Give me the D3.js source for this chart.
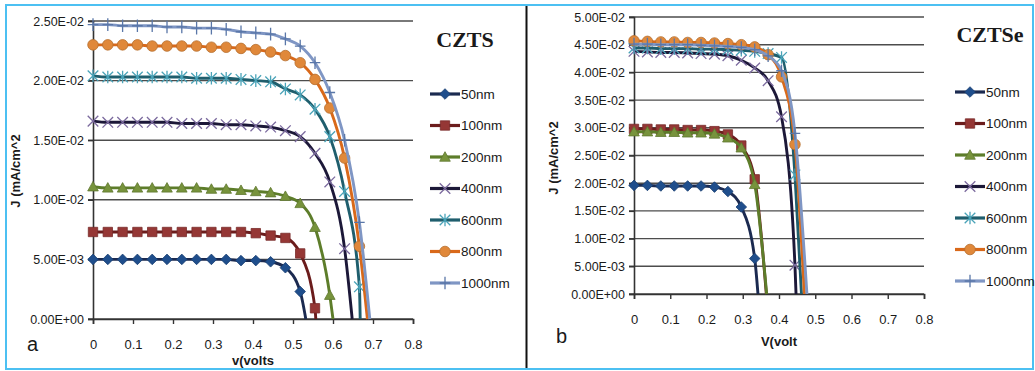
<!DOCTYPE html>
<html>
<head>
<meta charset="utf-8">
<script src="https://cdn.jsdelivr.net/npm/d3@7"></script>
<style>
  body { margin: 0; background: #fff; }
  text { font-family: "Liberation Sans", Arial, sans-serif; fill: #1a1a1a; }
</style>
</head>
<body>
<div id="chart"></div>
<script>
// voltage grid where the markers sit (same for every series)
const vGrid = [0, 0.037, 0.074, 0.111, 0.148, 0.185, 0.222, 0.259, 0.296, 0.333,
               0.370, 0.407, 0.444, 0.481, 0.518, 0.555, 0.592, 0.629, 0.666];
const names = ["50nm", "100nm", "200nm", "400nm", "600nm", "800nm", "1000nm"];

// CZTS (panel a) current density, one value per grid point
const czts50   = [0.0050,0.0050,0.0050,0.0050,0.0050,0.0050,0.0050,0.0050,0.0050,0.0050,0.0049,0.0049,0.0048,0.0043,0.0023];
const czts100  = [0.0073,0.0073,0.0073,0.0073,0.0073,0.0073,0.0073,0.0073,0.0073,0.0073,0.0073,0.0072,0.0070,0.0068,0.0055,0.0009];
const czts200  = [0.0111,0.0110,0.0110,0.0110,0.0110,0.0110,0.0110,0.0110,0.0109,0.0109,0.0108,0.0107,0.0106,0.0103,0.0097,0.0077,0.0020];
const czts400  = [0.0166,0.0165,0.0165,0.0165,0.0165,0.0165,0.0164,0.0164,0.0164,0.0163,0.0163,0.0162,0.0161,0.0158,0.0153,0.0139,0.0115,0.0059];
const czts600  = [0.0204,0.0203,0.0203,0.0203,0.0203,0.0203,0.0203,0.0202,0.0202,0.0202,0.0201,0.0200,0.0199,0.0193,0.0188,0.0176,0.0153,0.0107,0.0027];
const czts800  = [0.0230,0.0230,0.0230,0.0230,0.0229,0.0229,0.0229,0.0229,0.0228,0.0228,0.0227,0.0226,0.0224,0.0221,0.0215,0.0201,0.0177,0.0135,0.0061];
const czts1000 = [0.0247,0.0247,0.0246,0.0246,0.0246,0.0245,0.0245,0.0244,0.0244,0.0243,0.0241,0.0240,0.0239,0.0235,0.0229,0.0215,0.0190,0.0150,0.0081];
const cztsVoc  = [0.532, 0.557, 0.600, 0.648, 0.668, 0.686, 0.692];

// CZTSe (panel b)
const cztse50   = [0.0196,0.0196,0.0195,0.0195,0.0195,0.0195,0.0193,0.0185,0.0157,0.0064];
const cztse100  = [0.0298,0.0298,0.0297,0.0297,0.0296,0.0296,0.0294,0.0288,0.0268,0.0207];
const cztse200  = [0.0293,0.0293,0.0292,0.0292,0.0291,0.0291,0.0289,0.0282,0.0264,0.0198];
const cztse400  = [0.0438,0.0437,0.0436,0.0436,0.0435,0.0434,0.0433,0.0430,0.0422,0.0408,0.0385,0.0320,0.0052];
const cztse600  = [0.0444,0.0444,0.0443,0.0443,0.0443,0.0442,0.0442,0.0441,0.0440,0.0438,0.0434,0.0427,0.0215];
const cztse800  = [0.0457,0.0456,0.0455,0.0455,0.0454,0.0454,0.0453,0.0452,0.0450,0.0446,0.0432,0.0392,0.0270];
const cztse1000 = [0.0451,0.0451,0.0450,0.0450,0.0450,0.0449,0.0448,0.0447,0.0445,0.0441,0.0430,0.0403,0.0290];
const cztseVoc  = [0.342, 0.365, 0.366, 0.447, 0.462, 0.470, 0.477];

const xTicks = [0, 0.1, 0.2, 0.3, 0.4, 0.5, 0.6, 0.7, 0.8];
const yTicksA = [0, 0.005, 0.010, 0.015, 0.020, 0.025];
const yTicksB = [0, 0.005, 0.010, 0.015, 0.020, 0.025, 0.030, 0.035, 0.040, 0.045, 0.050];

// line colour, marker colour, marker type
const styles = [
  {line: "#1b2a50", mark: "#1f4e8c", shape: "diamond"},
  {line: "#6b1c1c", mark: "#953735", shape: "square"},
  {line: "#5d7d2a", mark: "#77933c", shape: "triangle"},
  {line: "#1c1838", mark: "#7b6a9e", shape: "x"},
  {line: "#1f5e6d", mark: "#4aa3b8", shape: "asterisk"},
  {line: "#d9691a", mark: "#e0883a", shape: "circle"},
  {line: "#7f96c4", mark: "#5a77a8", shape: "plus"}
];

function markerPath(shape) {
  const r = 5.3;
  switch (shape) {
    case "diamond": return `M0,${-r}L${r},0L0,${r}L${-r},0Z`;
    case "square": return `M${-r+0.6},${-r+0.6}H${r-0.6}V${r-0.6}H${-r+0.6}Z`;
    case "triangle": return `M0,${-r}L${r},${r*0.8}L${-r},${r*0.8}Z`;
    case "circle": return d3.symbol(d3.symbolCircle, 88)();
    case "x": return `M${-r},${-r}L${r},${r}M${-r},${r}L${r},${-r}`;
    case "asterisk": return `M${-r},${-r}L${r},${r}M${-r},${r}L${r},${-r}M0,${-r-1}L0,${r+1}`;
    case "plus": return `M${-r},0H${r}M0,${-r-1}V${r+1}`;
  }
}
const filled = s => ["diamond", "square", "triangle", "circle"].includes(s);

function fmtSci(d) {
  const parts = d.toExponential(2).split("e");
  let e = parseInt(parts[1]);
  const sign = e < 0 ? "-" : "+";
  e = Math.abs(e);
  return parts[0] + "E" + sign + (e < 10 ? "0" + e : e);
}

const svg = d3.select("#chart").append("svg")
  .attr("width", 1035).attr("height", 371);

// frame
svg.append("rect").attr("x", 6).attr("y", 5).attr("width", 1027).attr("height", 364)
  .attr("fill", "none").attr("stroke", "#4cc0f2").attr("stroke-width", 2);
svg.append("line").attr("x1", 526.5).attr("x2", 526.5).attr("y1", 6).attr("y2", 368)
  .attr("stroke", "#111").attr("stroke-width", 2);

function panel(cfg) {
  const x = d3.scaleLinear().domain([0, 0.8]).range([cfg.left, cfg.right]);
  const y = d3.scaleLinear().domain([0, cfg.yMax]).range([cfg.bottom, cfg.top]);
  const g = svg.append("g");

  // gridlines
  g.selectAll(".grid").data(cfg.yTicks).enter().append("line")
    .attr("x1", cfg.left - 5).attr("x2", cfg.right)
    .attr("y1", d => y(d)).attr("y2", d => y(d))
    .attr("stroke", "#4d4d4d").attr("stroke-width", 1.4);

  const ya = g.append("g").attr("transform", `translate(${cfg.left},0)`)
    .call(d3.axisLeft(y).tickValues(cfg.yTicks).tickFormat(fmtSci).tickSize(5).tickPadding(4));
  const xa = g.append("g").attr("transform", `translate(0,${cfg.bottom})`)
    .call(d3.axisBottom(x).tickValues(xTicks).tickFormat(d => String(d)).tickSize(5).tickPadding(cfg.xPad));
  [ya, xa].forEach(a => {
    a.select(".domain").attr("stroke", "#333").attr("stroke-width", 1.6);
    a.selectAll(".tick line").attr("stroke", "#333").attr("stroke-width", 1.4);
    a.selectAll("text").style("font-family", "Liberation Sans, Arial, sans-serif").attr("fill", "#1a1a1a");
  });
  ya.selectAll("text").style("font-size", "12.5px");
  xa.selectAll("text").style("font-size", "13px");

  const line = d3.line().x(d => x(d[0])).y(d => y(d[1])).curve(d3.curveMonotoneX);

  cfg.series.forEach((vals, i) => {
    const st = styles[i];
    const pts = vals.map((v, k) => [vGrid[k], v]);
    const sg = g.append("g");
    sg.append("path").datum(pts.concat([[cfg.voc[i], 0]]))
      .attr("d", line).attr("fill", "none")
      .attr("stroke", st.line).attr("stroke-width", 2.9);
    sg.selectAll("path.m").data(pts).enter().append("path").attr("class", "m")
      .attr("transform", d => `translate(${x(d[0])},${y(d[1])})`)
      .attr("d", markerPath(st.shape))
      .attr("fill", filled(st.shape) ? st.mark : "none")
      .attr("stroke", filled(st.shape) ? d3.color(st.mark).darker(0.6) : st.mark)
      .attr("stroke-width", filled(st.shape) ? 0.8 : 1.3);
  });

  // legend
  const lg = g.append("g");
  names.forEach((n, i) => {
    const st = styles[i];
    const ly = cfg.legY + i * 31.5;
    lg.append("line").attr("x1", cfg.legX).attr("x2", cfg.legX + 30)
      .attr("y1", ly).attr("y2", ly).attr("stroke", st.line).attr("stroke-width", 3.2);
    lg.append("path").attr("transform", `translate(${cfg.legX + 15},${ly})`)
      .attr("d", markerPath(st.shape))
      .attr("fill", filled(st.shape) ? st.mark : "none")
      .attr("stroke", filled(st.shape) ? d3.color(st.mark).darker(0.6) : st.mark)
      .attr("stroke-width", filled(st.shape) ? 0.8 : 1.3);
    lg.append("text").attr("x", cfg.legX + 31).attr("y", ly + 4.5)
      .style("font-size", "13.5px").text(n);
  });

  // titles
  g.append("text").attr("x", cfg.titleX).attr("y", cfg.titleY).attr("text-anchor", "middle")
    .style("font-family", "Liberation Serif, serif").style("font-weight", "bold").style("font-size", "22px")
    .text(cfg.title);
  g.append("text").attr("x", cfg.letterX).attr("y", cfg.letterY)
    .style("font-size", "20px").text(cfg.letter);
  g.append("text").attr("x", (cfg.left + cfg.right) / 2).attr("y", cfg.xTitleY).attr("text-anchor", "middle")
    .style("font-size", "13px").style("font-weight", "bold").text(cfg.xTitle);
  g.append("text").attr("transform", `translate(${cfg.yTitleX},${cfg.yTitleY}) rotate(-90)`)
    .attr("text-anchor", "middle").style("font-size", "13px").style("font-weight", "bold")
    .text("J (mA/cm^2");
}

panel({
  left: 93, right: 413, top: 21, bottom: 319, yMax: 0.025, yTicks: yTicksA, xPad: 16,
  series: [czts50, czts100, czts200, czts400, czts600, czts800, czts1000], voc: cztsVoc,
  legX: 430, legY: 94, title: "CZTS", titleX: 465, titleY: 47,
  letter: "a", letterX: 27, letterY: 351, xTitle: "v(volts", xTitleY: 365,
  yTitleX: 20, yTitleY: 171
});

panel({
  left: 634, right: 924, top: 17, bottom: 294, yMax: 0.05, yTicks: yTicksB, xPad: 16,
  series: [cztse50, cztse100, cztse200, cztse400, cztse600, cztse800, cztse1000], voc: cztseVoc,
  legX: 955, legY: 92, title: "CZTSe", titleX: 990, titleY: 42,
  letter: "b", letterX: 556, letterY: 343, xTitle: "V(volt", xTitleY: 346,
  yTitleX: 558, yTitleY: 158
});
</script>
</body>
</html>
